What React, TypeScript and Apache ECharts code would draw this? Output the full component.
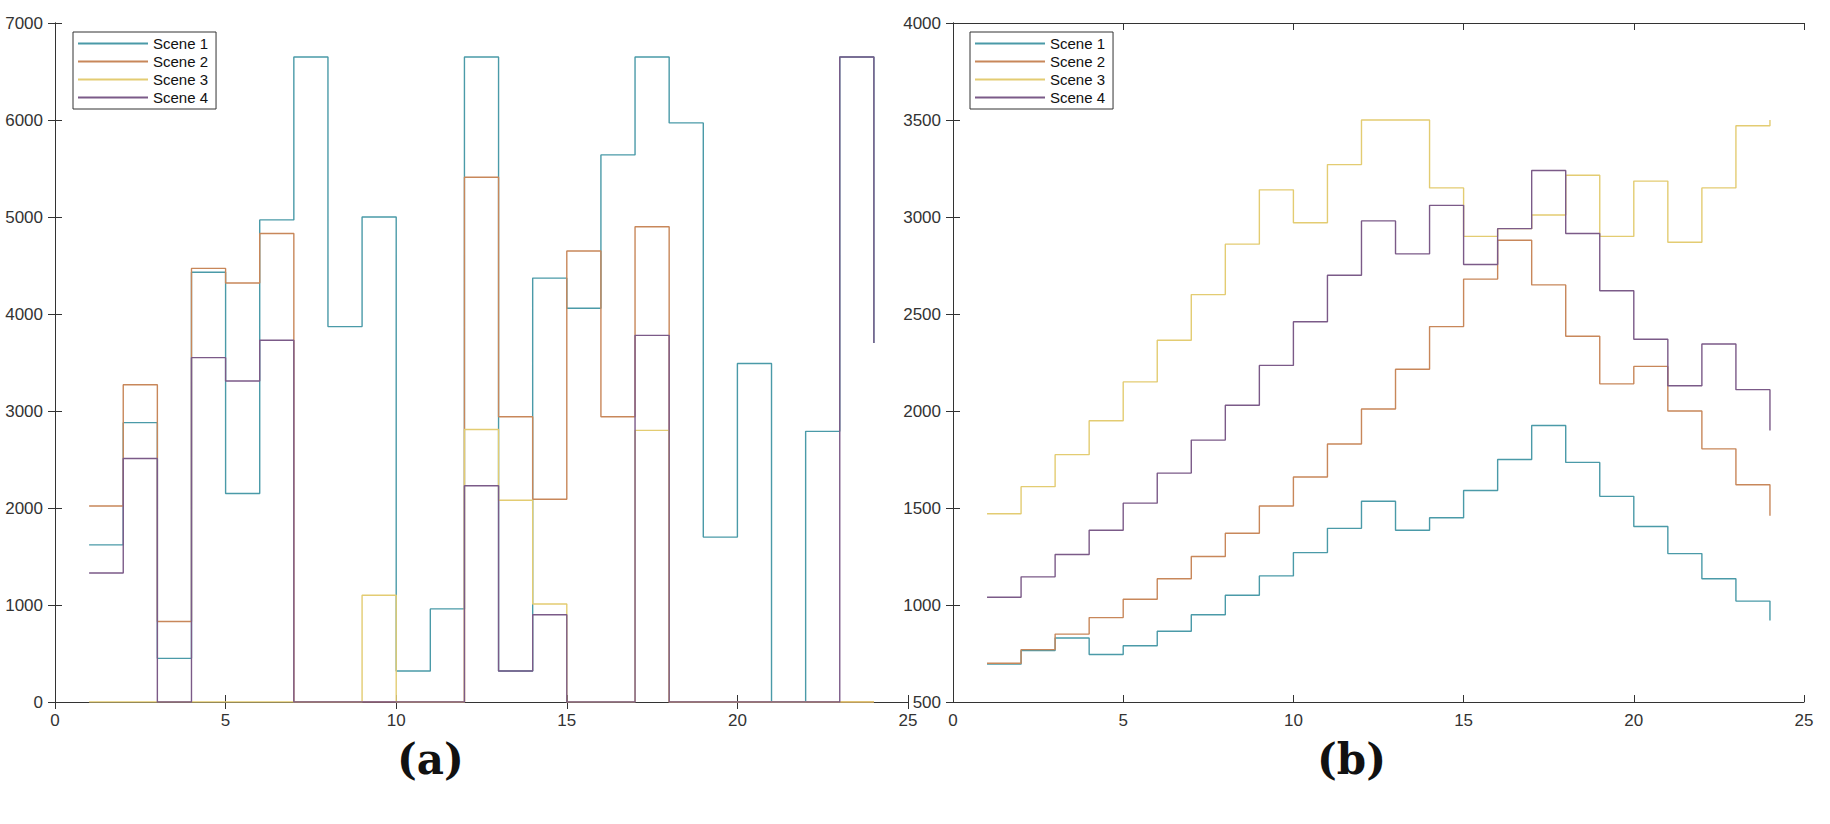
import React, { useEffect, useRef } from 'react';
import * as echarts from 'echarts';

const steps = Array.from({ length: 24 }, (_, i) => i + 1);
const names = ['Scene 1', 'Scene 2', 'Scene 3', 'Scene 4'];
const colors = ['#4a9aa8', '#c8875a', '#e3cc72', '#7b5a88'];

// panel (a)
const a1 = [1620, 2880, 450, 4430, 2150, 4970, 6650, 3870, 5000, 320, 960, 6650, 320, 4370, 4060, 5640, 6650, 5970, 1700, 3490, 0, 2790, 6650, 3700];
const a2 = [2020, 3270, 830, 4470, 4320, 4830, 0, 0, 0, 0, 0, 5410, 2940, 2090, 4650, 2940, 4900, 0, 0, 0, 0, 0, 0, 0];
const a3 = [0, 0, 0, 0, 0, 0, 0, 0, 1100, 0, 0, 2810, 2080, 1010, 0, 0, 2800, 0, 0, 0, 0, 0, 0, 0];
const a4 = [1330, 2510, 0, 3550, 3310, 3730, 0, 0, 0, 0, 0, 2230, 320, 900, 0, 0, 3780, 0, 0, 0, 0, 0, 6650, 3700];

// panel (b)
const b1 = [695, 765, 830, 745, 790, 865, 950, 1050, 1150, 1270, 1395, 1535, 1385, 1450, 1590, 1750, 1925, 1735, 1560, 1405, 1265, 1135, 1020, 920];
const b2 = [700, 770, 850, 935, 1030, 1135, 1250, 1370, 1510, 1660, 1830, 2010, 2215, 2435, 2680, 2880, 2650, 2385, 2140, 2230, 2000, 1805, 1620, 1460];
const b3 = [1470, 1610, 1775, 1950, 2150, 2365, 2600, 2860, 3140, 2970, 3270, 3500, 3500, 3150, 2900, 2940, 3010, 3215, 2900, 3185, 2870, 3150, 3470, 3500];
const b4 = [1040, 1145, 1260, 1385, 1525, 1680, 1850, 2030, 2235, 2460, 2700, 2980, 2810, 3060, 2755, 2940, 3240, 2915, 2620, 2370, 2130, 2345, 2110, 1900];

const panelA = [a1, a2, a3, a4];
const panelB = [b1, b2, b3, b4];

const App: React.FC = () => {
  const chartRef = useRef<HTMLDivElement | null>(null);

  useEffect(() => {
    document.body.style.margin = '0';
    if (!chartRef.current) return;
    const chart = echarts.init(chartRef.current, null, { renderer: 'svg' });

    const axisText = { color: '#333', fontSize: 17, fontFamily: 'Liberation Sans', formatter: (v: number) => String(v) };
    const grids = [
      { left: 55, top: 23, width: 853, height: 679 },
      { left: 953, top: 23, width: 851, height: 679 },
    ];
    const yRanges = [
      [0, 7000, 1000],
      [500, 4000, 500],
    ];

    const xAxis: any[] = [];
    const yAxis: any[] = [];
    grids.forEach((_, g) => {
      const line = { show: true, lineStyle: { color: '#333', width: 1 } };
      const tick = { inside: true, length: 7, lineStyle: { color: '#333' } };
      xAxis.push({
        type: 'value', gridIndex: g, min: 0, max: 25, interval: 5, position: 'bottom',
        axisLine: line, axisTick: tick, splitLine: { show: false }, axisLabel: { ...axisText, margin: 10 },
      });
      xAxis.push({
        type: 'value', gridIndex: g, min: 0, max: 25, interval: 5, position: 'top',
        axisLine: line, axisTick: tick, splitLine: { show: false }, axisLabel: { show: false },
      });
      const [mn, mx, iv] = yRanges[g];
      yAxis.push({
        type: 'value', gridIndex: g, min: mn, max: mx, interval: iv, position: 'left',
        axisLine: line, axisTick: tick, splitLine: { show: false }, axisLabel: { ...axisText, margin: 12 },
      });
      yAxis.push({
        type: 'value', gridIndex: g, min: mn, max: mx, interval: iv, position: 'right',
        axisLine: line, axisTick: tick, splitLine: { show: false }, axisLabel: { show: false },
      });
    });

    const series: any[] = [];
    [panelA, panelB].forEach((panel, g) => {
      panel.forEach((vals, i) => {
        series.push({
          type: 'line', name: names[i], step: 'end', showSymbol: false,
          xAxisIndex: g * 2, yAxisIndex: g * 2,
          data: steps.map((x, k) => [x, vals[k]]),
          lineStyle: { color: colors[i], width: 1.4 },
          itemStyle: { color: colors[i] },
        });
      });
    });

    const legendBase = {
      orient: 'vertical', data: names, top: 32, itemWidth: 70, itemHeight: 2, itemGap: 3,
      icon: 'rect', borderColor: '#333', borderWidth: 1, padding: [4, 8, 4, 5],
      backgroundColor: '#fff', selectedMode: false,
      textStyle: { fontSize: 15, fontFamily: 'Liberation Sans', color: '#111' },
    };

    chart.setOption({
      animation: false,
      grid: grids,
      xAxis,
      yAxis,
      series,
      legend: [
        { ...legendBase, left: 73 },
        { ...legendBase, left: 970 },
      ],
      graphic: [
        { type: 'text', left: 397, top: 738, style: { text: '(a)', font: 'bold 42px "DejaVu Serif", serif', fill: '#111' } },
        { type: 'text', left: 1317, top: 738, style: { text: '(b)', font: 'bold 42px "DejaVu Serif", serif', fill: '#111' } },
      ],
    });

    return () => {
      chart.dispose();
    };
  }, []);

  return <div ref={chartRef} style={{ width: '1830px', height: '824px', background: '#fff' }} />;
};

export default App;
